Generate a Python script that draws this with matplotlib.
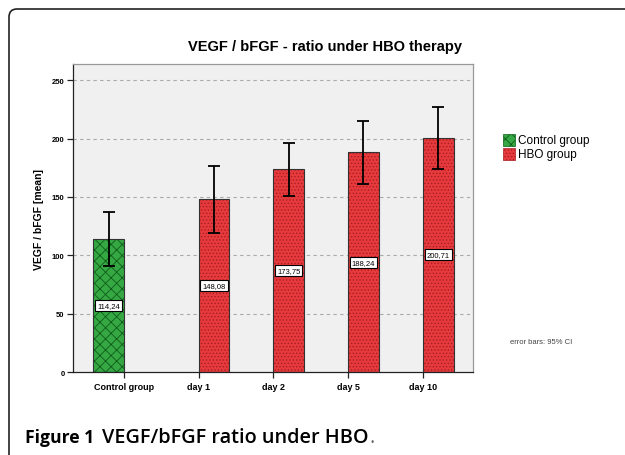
import matplotlib
matplotlib.use('Agg')
import matplotlib.pyplot as plt
from matplotlib.patches import FancyBboxPatch, Rectangle

plt.rcParams['font.family'] = ['Liberation Sans', 'DejaVu Sans']
plt.rcParams['hatch.linewidth'] = 0.6

# data
categories = ['Control group', 'day 1', 'day 2', 'day 5', 'day 10']
control_mean = [114.24]
control_lo = [91]
control_hi = [137]
hbo_mean = [148.08, 173.75, 188.24, 200.71]
hbo_lo = [119, 151, 161, 174]
hbo_hi = [177, 196, 215, 227]
yticks = [0, 50, 100, 150, 200, 250]

green = '#35a843'
green_hatch = '#0e5c19'
red = '#e63a3d'
red_hatch = '#a91d22'

fig = plt.figure(figsize=(6.25, 4.56), dpi=100)

# rounded frame around the figure panel (in inches)
frame = FancyBboxPatch((0.09, -1.0), 10.0, 4.46 + 1.0,
                       boxstyle='round,pad=0,rounding_size=0.08',
                       transform=fig.dpi_scale_trans, fill=False,
                       edgecolor='#222222', linewidth=1.2, clip_on=False)
fig.patches.append(frame)

ax = fig.add_axes([73 / 625, 1 - 373 / 456, 400 / 625, 308 / 456])
ax.set_facecolor('#f0f0f0')

w = 0.41
x = list(range(len(categories)))

# control bar sits left of its tick
ax.bar(x[0], control_mean[0], width=-w, align='edge', color=green,
       hatch='xxx', edgecolor=green_hatch, linewidth=0, zorder=2)
ax.bar(x[0], control_mean[0], width=-w, align='edge', fill=False,
       edgecolor='#333333', linewidth=0.8, zorder=3)
cx = x[0] - w / 2
ax.errorbar([cx], control_mean,
            yerr=[[control_mean[0] - control_lo[0]], [control_hi[0] - control_mean[0]]],
            fmt='none', ecolor='black', elinewidth=1.3, capsize=4.5, capthick=1.3, zorder=4)
ax.text(cx, control_mean[0] / 2, '114,24', ha='center', va='center', fontsize=5.5,
        bbox=dict(facecolor='white', edgecolor='black', linewidth=0.8, pad=1.5), zorder=5)

# HBO bars sit right of their ticks
hx = x[1:]
ax.bar(hx, hbo_mean, width=w, align='edge', color=red,
       hatch='.....', edgecolor=red_hatch, linewidth=0, zorder=2)
ax.bar(hx, hbo_mean, width=w, align='edge', fill=False,
       edgecolor='#333333', linewidth=0.8, zorder=3)
centers = [v + w / 2 for v in hx]
ax.errorbar(centers, hbo_mean,
            yerr=[[m - l for m, l in zip(hbo_mean, hbo_lo)],
                  [h - m for m, h in zip(hbo_mean, hbo_hi)]],
            fmt='none', ecolor='black', elinewidth=1.3, capsize=4.5, capthick=1.3, zorder=4)
for c, m in zip(centers, hbo_mean):
    ax.text(c, m / 2, f'{m:.2f}'.replace('.', ','), ha='center', va='center', fontsize=5.5,
            bbox=dict(facecolor='white', edgecolor='black', linewidth=0.8, pad=1.5), zorder=5)

ax.set_xlim(-0.68, 4.67)
ax.set_ylim(0, 264)
ax.set_yticks(yticks)
ax.set_yticklabels([str(t) for t in yticks], fontsize=5.5, fontweight='bold')
ax.set_xticks(x)
ax.set_xticklabels(categories, fontsize=6.5, fontweight='bold')
ax.tick_params(axis='both', length=4, width=0.9, color='#222222')
ax.tick_params(axis='x', pad=3)
ax.tick_params(axis='y', pad=2)
for t in yticks[1:]:
    ax.axhline(t, color='#aaaaaa', linestyle=(0, (3, 3)), linewidth=0.8, zorder=1)

ax.spines['left'].set_color('#222222')
ax.spines['bottom'].set_color('#222222')
ax.spines['top'].set_color('#999999')
ax.spines['right'].set_color('#999999')
for s in ax.spines.values():
    s.set_linewidth(0.9)

ax.set_ylabel('VEGF / bFGF [mean]', fontsize=7.5, fontweight='bold', labelpad=6)

fig.text(325 / 625, 1 - 47 / 456, 'VEGF / bFGF - ratio under HBO therapy',
         ha='center', va='center', fontsize=10.5, fontweight='bold')

# legend
for i, (fc, hc, h, lab) in enumerate([(green, green_hatch, 'xxx', 'Control group'),
                                      (red, red_hatch, '.....', 'HBO group')]):
    y0 = 1 - (147 + i * 14) / 456
    r = Rectangle((503 / 625, y0), 12 / 625, 12 / 456, transform=fig.transFigure,
                  facecolor=fc, hatch=h, edgecolor=hc, linewidth=0.5)
    fig.patches.append(r)
    fig.text(518 / 625, y0 + 6 / 456, lab, ha='left', va='center', fontsize=8.5)

fig.text(510 / 625, 1 - 343 / 456, 'error bars: 95% CI', ha='left', va='center',
         fontsize=5.5, color='#444444')

# caption, pieces placed one after another
cap_font = ['Open Sans', 'DejaVu Sans']
t1 = fig.text(25 / 625, 1 - 438 / 456, 'Figure 1', ha='left', va='center', fontsize=12.6,
              fontweight='bold', family=cap_font)
fig.canvas.draw()
r = fig.canvas.get_renderer()
x1 = t1.get_window_extent(r).x1
t2 = fig.text((x1 + 8) / 625, 1 - 438 / 456, 'VEGF/bFGF ratio under HBO', ha='left', va='center',
              fontsize=14.3, fontweight='semibold', family=cap_font)
x2 = t2.get_window_extent(r).x1
fig.text((x2 + 1) / 625, 1 - 438 / 456, '.', ha='left', va='center', fontsize=14.3,
         color='#666666', family=cap_font)

fig.savefig('out.png', dpi=100)
